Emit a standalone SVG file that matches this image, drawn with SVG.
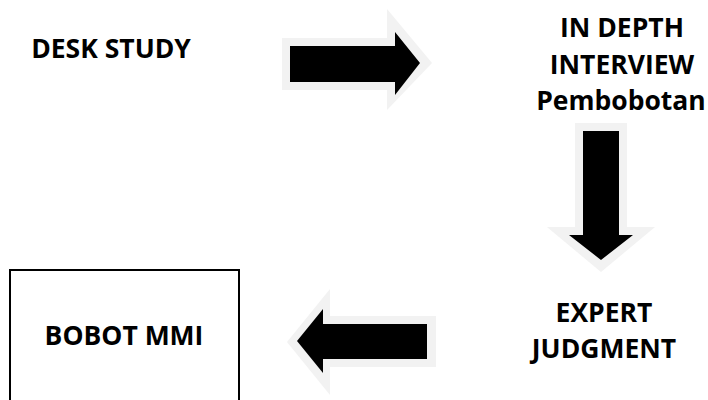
<svg xmlns="http://www.w3.org/2000/svg" width="708" height="400" viewBox="0 0 708 400">
<style>
text{font-family:"Open Sans","Liberation Sans",sans-serif;font-weight:bold;font-size:26.5px;fill:#000;text-anchor:middle}
.halo{fill:#f2f2f2}
.arr{fill:#000}
</style>
<rect width="708" height="400" fill="#fff"/>
<g id="desk-study"><text x="111" y="58">DESK STUDY</text></g>
<g id="in-depth"><text x="622" y="37">IN DEPTH</text><text x="622" y="74">INTERVIEW</text><text x="621" y="110">Pembobotan</text></g>
<g id="expert"><text x="604" y="322">EXPERT</text><text x="604" y="358">JUDGMENT</text></g>
<g id="bobot-mmi"><rect x="10" y="270" width="229" height="140" fill="#fff" stroke="#000" stroke-width="2"/><text x="124" y="345">BOBOT MMI</text></g>
<g id="connectors">
<polygon class="halo" points="282,38 387,38 387,9 432,63 387,110 387,90 282,90"/>
<polygon class="arr" points="290,46 395,46 395,32 420,63 395,95 395,82 290,82"/>
<polygon class="halo" points="575,123 627,123 627,227 655,227 601,272 547,227 575,227"/>
<polygon class="arr" points="583,131 619,131 619,235 633,235 601,260 569,235 583,235"/>
<polygon class="halo" points="436,316 436,367 330,367 330,395 287,342 330,289 330,316"/>
<polygon class="arr" points="427,324 427,359 323,359 323,373 297,341 323,309 323,324"/>
</g>
</svg>
